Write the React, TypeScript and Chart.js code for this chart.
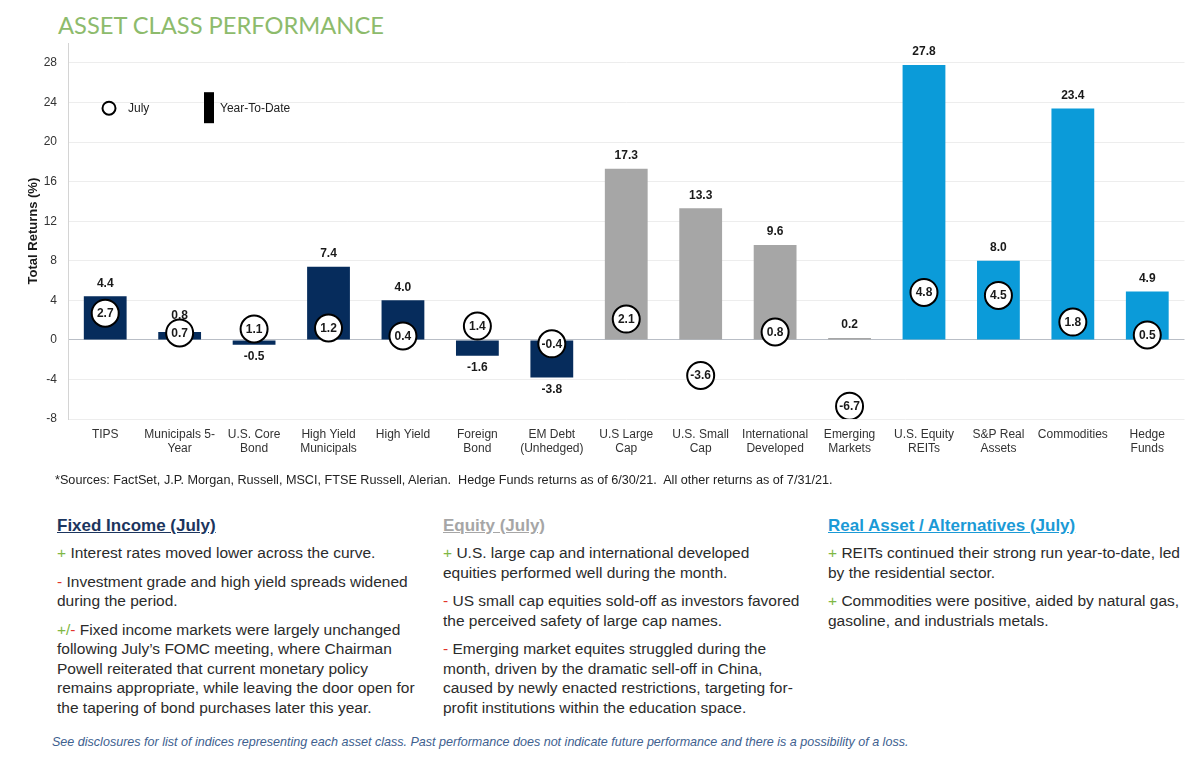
import React, { useEffect, useRef } from "react";
import { Chart, registerables } from "chart.js";

Chart.register(...registerables);

const categories: string[][] = [
  ["TIPS"],
  ["Municipals 5-", "Year"],
  ["U.S. Core", "Bond"],
  ["High Yield", "Municipals"],
  ["High Yield"],
  ["Foreign", "Bond"],
  ["EM Debt", "(Unhedged)"],
  ["U.S Large", "Cap"],
  ["U.S. Small", "Cap"],
  ["International", "Developed"],
  ["Emerging", "Markets"],
  ["U.S. Equity", "REITs"],
  ["S&P Real", "Assets"],
  ["Commodities"],
  ["Hedge", "Funds"],
];

const ytdValues = [4.4, 0.8, -0.5, 7.4, 4.0, -1.6, -3.8, 17.3, 13.3, 9.6, 0.2, 27.8, 8.0, 23.4, 4.9];
const julyValues = [2.7, 0.7, 1.1, 1.2, 0.4, 1.4, -0.4, 2.1, -3.6, 0.8, -6.7, 4.8, 4.5, 1.8, 0.5];
const assetGroups = ["fi", "fi", "fi", "fi", "fi", "fi", "fi", "eq", "eq", "eq", "eq", "ra", "ra", "ra", "ra"];

const yMin = -8;
const yMax = 30;
const yStep = 4;

const groupColors: Record<string, string> = {
  fi: "#062c5c",
  eq: "#a6a6a6",
  ra: "#0b9bd9",
};

const FONT = '"Liberation Sans", Arial, Helvetica, sans-serif';
const CIRCLE_R = 13.5;

const labelPlugin = {
  id: "valueLabels",
  afterDatasetsDraw(chart: any) {
    const ctx = chart.ctx;
    const barMeta = chart.getDatasetMeta(0);
    const ptMeta = chart.getDatasetMeta(1);
    ctx.save();
    ctx.font = `bold 12px ${FONT}`;
    ctx.fillStyle = "#1a1a1a";
    ctx.textAlign = "center";
    ctx.textBaseline = "middle";
    barMeta.data.forEach((bar: any, i: number) => {
      const v = ytdValues[i];
      const pt = ptMeta.data[i];
      let y = v >= 0 ? bar.y - 13 : bar.y + 12;
      if (v >= 0 && pt && pt.y > y) y = Math.min(y, pt.y - CIRCLE_R - 4);
      ctx.fillText(v.toFixed(1), bar.x, y);
    });
    ptMeta.data.forEach((pt: any, i: number) => {
      ctx.fillText(julyValues[i].toFixed(1), pt.x, pt.y + 0.5);
    });
    ctx.restore();
  },
};

const legendPlugin = {
  id: "customLegend",
  afterDraw(chart: any) {
    const ctx = chart.ctx;
    const left = chart.chartArea.left;
    const cy = chart.chartArea.top + 65;
    ctx.save();
    ctx.strokeStyle = "#000";
    ctx.lineWidth = 2;
    ctx.beginPath();
    ctx.arc(left + 41, cy, 6.5, 0, Math.PI * 2);
    ctx.stroke();
    ctx.fillStyle = "#000";
    ctx.fillRect(left + 136, cy - 16, 10, 31);
    ctx.font = `12px ${FONT}`;
    ctx.fillStyle = "#222";
    ctx.textAlign = "left";
    ctx.textBaseline = "middle";
    ctx.fillText("July", left + 60, cy);
    ctx.fillText("Year-To-Date", left + 152, cy);
    ctx.restore();
  },
};

function PerformanceChart() {
  const ref = useRef<HTMLCanvasElement | null>(null);
  useEffect(() => {
    if (!ref.current) return;
    const chart = new Chart(ref.current, {
      type: "bar",
      data: {
        labels: categories,
        datasets: [
          {
            type: "bar",
            label: "Year-To-Date",
            data: ytdValues,
            backgroundColor: assetGroups.map((g) => groupColors[g]),
            borderWidth: 0,
            barPercentage: 0.575,
            categoryPercentage: 1,
            order: 2,
          } as any,
          {
            type: "line",
            label: "July",
            data: julyValues,
            showLine: false,
            pointRadius: CIRCLE_R,
            pointHoverRadius: CIRCLE_R,
            pointBackgroundColor: "#ffffff",
            pointBorderColor: "#000000",
            pointBorderWidth: 2,
            order: 1,
          } as any,
        ],
      },
      options: {
        animation: false,
        responsive: false,
        maintainAspectRatio: false,
        events: [],
        layout: { padding: { left: 22, right: 12, top: 0, bottom: 0 } },
        plugins: {
          legend: { display: false },
          tooltip: { enabled: false },
        },
        scales: {
          x: {
            grid: { display: false, drawTicks: false },
            border: { display: false },
            ticks: {
              color: "#333",
              font: { family: FONT, size: 12 },
              padding: 8,
              maxRotation: 0,
              autoSkip: false,
            },
            afterFit(scale: any) {
              scale.height = 56;
            },
          },
          y: {
            min: yMin,
            max: yMax,
            grid: {
              drawTicks: false,
              color: (c: any) => (c.tick && c.tick.value === 0 ? "#b9bec6" : "#ededed"),
              lineWidth: 1,
            },
            border: { display: true, color: "#d4d4d4", width: 1 },
            ticks: {
              stepSize: yStep,
              includeBounds: false,
              color: "#333",
              font: { family: FONT, size: 12 },
              padding: 11,
            },
            title: {
              display: true,
              text: "Total Returns (%)",
              color: "#1a1a1a",
              font: { family: FONT, size: 13, weight: "bold" },
            },
            afterFit(scale: any) {
              scale.width = 46;
            },
          },
        },
      } as any,
      plugins: [labelPlugin, legendPlugin],
    });
    return () => chart.destroy();
  }, []);
  return <canvas ref={ref} width={1200} height={450} style={{ position: "absolute", left: 0, top: 25, width: 1200, height: 450 }} />;
}

const plus = <span style={{ color: "#7fb844" }}>+</span>;
const minus = <span style={{ color: "#e2342b" }}>-</span>;
const plusMinus = (
  <span>
    <span style={{ color: "#7fb844" }}>+/</span>
    <span style={{ color: "#e2342b" }}>-</span>
  </span>
);

function Para({ sign, lines }: { sign: React.ReactNode; lines: string[] }) {
  return (
    <div style={{ marginBottom: 9 }}>
      {lines.map((l, i) => (
        <div key={i} style={{ whiteSpace: "nowrap" }}>
          {i === 0 ? <>{sign} </> : null}
          {l}
        </div>
      ))}
    </div>
  );
}

function Column({ left, title, color, children }: { left: number; title: string; color: string; children: React.ReactNode }) {
  return (
    <div style={{ position: "absolute", left, top: 515, fontFamily: FONT }}>
      <div style={{ fontSize: 17, fontWeight: "bold", color, textDecoration: "underline", lineHeight: "22px", marginBottom: 6 }}>{title}</div>
      <div style={{ fontSize: 15.5, lineHeight: "19.5px", color: "#2b2b2b" }}>{children}</div>
    </div>
  );
}

export default function App() {
  return (
    <div style={{ position: "fixed", left: 0, top: 0, width: 1200, height: 758, background: "#fff", overflow: "hidden", fontFamily: FONT }}>
      <div style={{ position: "absolute", left: 58, top: 8, fontFamily: "Lato, 'Open Sans', sans-serif", fontSize: 23.7, color: "#8dbb6c", whiteSpace: "nowrap", lineHeight: "34px" }}>
        ASSET CLASS PERFORMANCE
      </div>
      <PerformanceChart />
      <div style={{ position: "absolute", left: 55, top: 473, fontSize: 12.65, color: "#222", whiteSpace: "pre" }}>
        {"*Sources: FactSet, J.P. Morgan, Russell, MSCI, FTSE Russell, Alerian.  Hedge Funds returns as of 6/30/21.  All other returns as of 7/31/21."}
      </div>
      <Column left={57} title="Fixed Income (July)" color="#1c355e">
        <Para sign={plus} lines={["Interest rates moved lower across the curve."]} />
        <Para sign={minus} lines={["Investment grade and high yield spreads widened", "during the period."]} />
        <Para
          sign={plusMinus}
          lines={[
            "Fixed income markets were largely unchanged",
            "following July\u2019s FOMC meeting, where Chairman",
            "Powell reiterated that current monetary policy",
            "remains appropriate, while leaving the door open for",
            "the tapering of bond purchases later this year.",
          ]}
        />
      </Column>
      <Column left={443} title="Equity (July)" color="#a6a6a6">
        <Para sign={plus} lines={["U.S. large cap and international developed", "equities performed well during the month."]} />
        <Para sign={minus} lines={["US small cap equities sold-off as investors favored", "the perceived safety of large cap names."]} />
        <Para
          sign={minus}
          lines={[
            "Emerging market equites struggled during the",
            "month, driven by the dramatic sell-off in China,",
            "caused by newly enacted restrictions, targeting for-",
            "profit institutions within the education space.",
          ]}
        />
      </Column>
      <Column left={828} title="Real Asset / Alternatives (July)" color="#1b9ad6">
        <Para sign={plus} lines={["REITs continued their strong run year-to-date, led", "by the residential sector."]} />
        <Para sign={plus} lines={["Commodities were positive, aided by natural gas,", "gasoline, and industrials metals."]} />
      </Column>
      <div style={{ position: "absolute", left: 52, top: 735, fontSize: 12.55, fontStyle: "italic", color: "#40618f", whiteSpace: "nowrap" }}>
        See disclosures for list of indices representing each asset class. Past performance does not indicate future performance and there is a possibility of a loss.
      </div>
    </div>
  );
}
